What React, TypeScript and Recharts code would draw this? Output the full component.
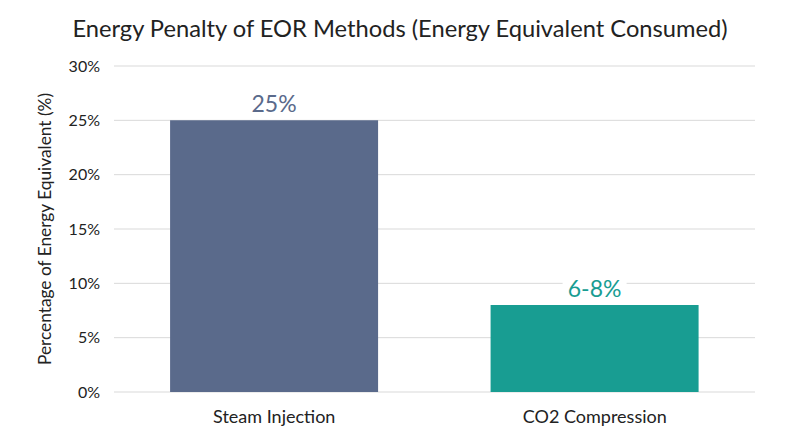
import React from 'react';
import { BarChart, Bar, XAxis, YAxis, CartesianGrid, Cell, LabelList } from 'recharts';

const methods = ['Steam Injection', 'CO2 Compression'];
const penalty = [25, 8];
const valueLabels = ['25%', '6-8%'];
const yTicks = [0, 5, 10, 15, 20, 25, 30];

const BAR_COLORS = ['#5a6a8b', '#189d92'];
const FONT = 'Lato, "Open Sans", sans-serif';

const data = methods.map((name, i) => ({ name, value: penalty[i], label: valueLabels[i] }));

const ValueLabel = (props: any) => {
  const { x, y, width, index } = props;
  const text = valueLabels[index];
  const cx = x + width / 2;
  const cy = y - 17;
  const w = text.length * 12 + 16;
  return (
    <g>
      <rect x={cx - w / 2} y={cy - 14} width={w} height={28} fill="#ffffff" />
      <text
        x={cx}
        y={cy}
        textAnchor="middle"
        dominantBaseline="central"
        fill={BAR_COLORS[index]}
        style={{ fontFamily: FONT, fontSize: 23 }}
      >
        {text}
      </text>
    </g>
  );
};

export default function App() {
  return (
    <div style={{ position: 'relative', width: 800, height: 447, margin: -8, background: '#fff' }}>
      <div
        style={{
          position: 'absolute',
          top: 14,
          left: 0,
          width: 800,
          textAlign: 'center',
          fontFamily: FONT,
          fontSize: 23.7,
          color: '#222',
        }}
      >
        Energy Penalty of EOR Methods (Energy Equivalent Consumed)
      </div>
      <BarChart
        width={800}
        height={447}
        data={data}
        margin={{ top: 66, right: 45, bottom: 25, left: 54 }}
        barCategoryGap="17.5%"
      >
        <CartesianGrid vertical={false} stroke="#d9d9d9" />
        <XAxis
          dataKey="name"
          axisLine={false}
          tickLine={false}
          tickMargin={12}
          tick={{ fill: '#222', fontSize: 18, fontFamily: FONT }}
        />
        <YAxis
          width={60}
          domain={[0, 30]}
          ticks={yTicks}
          tickFormatter={(v) => `${v}%`}
          axisLine={false}
          tickLine={false}
          tickMargin={8}
          tick={{ fill: '#222', fontSize: 16, fontFamily: FONT }}
          label={{
            value: 'Percentage of Energy Equivalent (%)',
            angle: -90,
            position: 'insideLeft',
            dx: -14,
            style: { textAnchor: 'middle', fill: '#222', fontSize: 17.3, fontFamily: FONT },
          }}
        />
        <Bar dataKey="value" isAnimationActive={false}>
          {data.map((_, i) => (
            <Cell key={`cell-${i}`} fill={BAR_COLORS[i]} />
          ))}
          <LabelList dataKey="label" content={<ValueLabel />} />
        </Bar>
      </BarChart>
    </div>
  );
}
